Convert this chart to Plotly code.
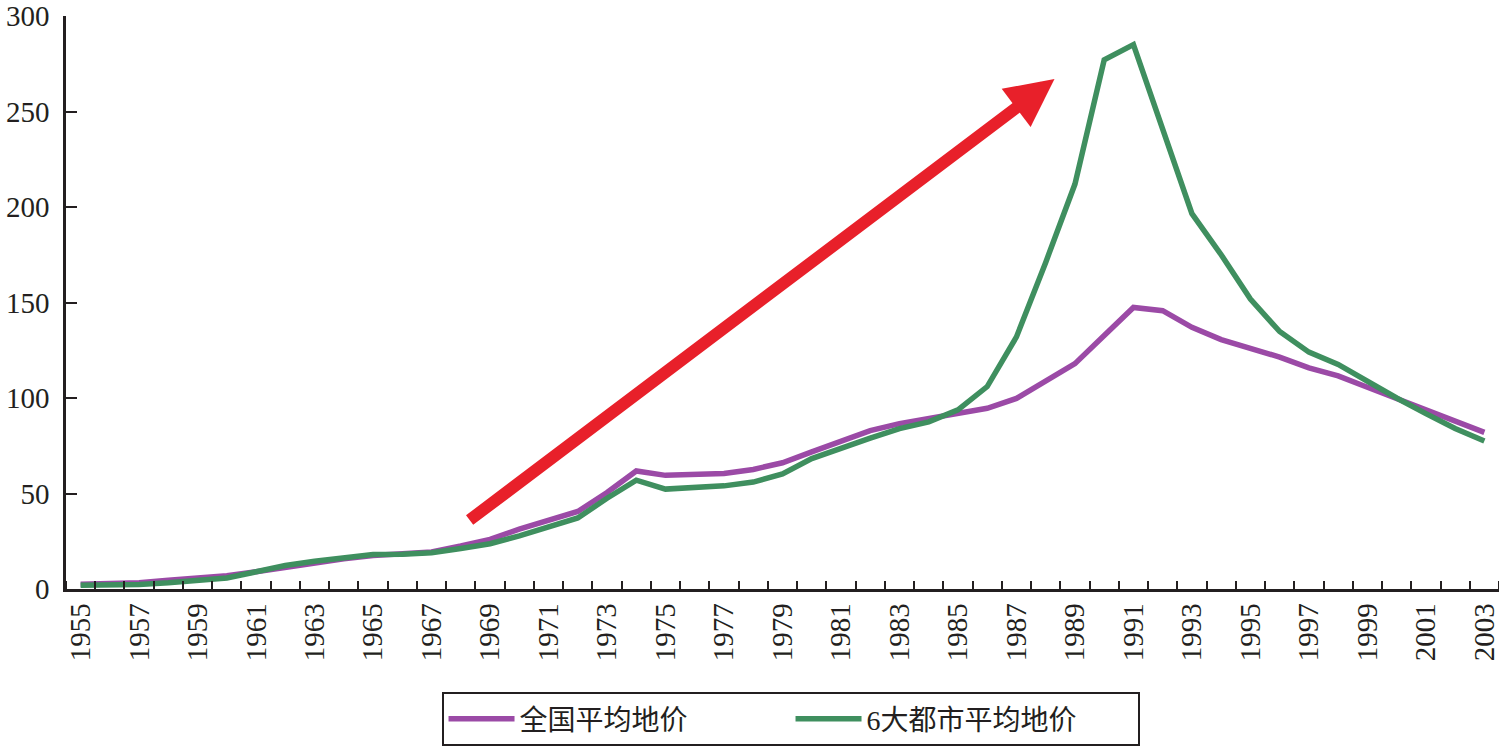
import plotly.graph_objects as go

years = list(range(1955, 2004))

national_avg = [2.5, 2.6, 3.3, 4.6, 5.7, 6.9, 9.0, 11.5, 13.8, 15.8, 17.5, 18.3, 19.4,
                22.5, 26.0, 31.3, 35.8, 40.6, 50.5, 61.8, 59.5, 59.7, 60.5, 62.6, 66.1,
                71.8, 77.7, 82.9, 86.6, 89.4, 92.0, 94.6, 99.8, 108.8, 118.0, 132.7,
                147.4, 145.7, 137.0, 130.6, 126.3, 121.4, 115.8, 111.6, 105.6, 99.8,
                93.8, 88.1, 82.0]

six_cities_avg = [2.0, 2.0, 2.4, 3.3, 4.6, 5.8, 9.0, 12.3, 14.5, 16.3, 18.0, 18.2, 19.0,
                  21.2, 23.7, 27.8, 32.5, 37.2, 47.5, 57.0, 52.3, 53.1, 54.0, 56.0, 60.2,
                  68.3, 74.0, 79.0, 84.0, 87.5, 93.8, 106.0, 132.0, 171.0, 212.0, 277.0,
                  285.0, 240.5, 196.5, 175.0, 151.8, 134.8, 124.0, 117.6, 108.5, 100.0,
                  91.8, 84.0, 77.5]

series_names = ["全国平均地价", "6大都市平均地价"]
tick_years = list(range(1955, 2004, 2))
y_ticks = [0, 50, 100, 150, 200, 250, 300]

# trend arrow (tail -> tip), in data units
arrow_tail = (1968.25, 35.5)
arrow_tip = (1988.3, 267.0)

axis_color = "#231f20"
serif = "'Liberation Serif', 'Times New Roman', 'Noto Sans CJK SC', serif"

fig = go.Figure()
fig.add_trace(go.Scatter(x=years, y=national_avg, mode="lines", name=series_names[0],
                         line=dict(color="#9b4aa6", width=5.5)))
fig.add_trace(go.Scatter(x=years, y=six_cities_avg, mode="lines", name=series_names[1],
                         line=dict(color="#3f8f5f", width=5.5)))

fig.add_annotation(x=arrow_tip[0], y=arrow_tip[1], ax=arrow_tail[0], ay=arrow_tail[1],
                   xref="x", yref="y", axref="x", ayref="y", text="",
                   showarrow=True, arrowhead=2, arrowsize=0.8, arrowwidth=12,
                   arrowcolor="#e8202a")

fig.update_layout(
    width=1499, height=746,
    margin=dict(l=66, r=0, t=16, b=157, autoexpand=False),
    paper_bgcolor="white", plot_bgcolor="white",
    font=dict(family=serif, color=axis_color),
    showlegend=True,
    legend=dict(orientation="h", x=0.5056, xanchor="center", y=-0.18, yanchor="top",
                bordercolor=axis_color, borderwidth=2, bgcolor="white",
                font=dict(family=serif, size=28, color=axis_color),
                entrywidth=266, itemwidth=66),
)

fig.update_xaxes(
    range=[1954.5, 2003.5], tickmode="array", tickvals=tick_years,
    ticktext=[str(y) for y in tick_years], tickangle=-90, automargin=False,
    ticks="", showline=True, linecolor=axis_color, linewidth=2.5,
    showgrid=False, zeroline=False, ticklabeloverflow="allow",
    tickfont=dict(family=serif, size=29, color=axis_color),
    minor=dict(tick0=1954.5, dtick=1, ticks="inside", ticklen=8, tickwidth=2,
               tickcolor=axis_color, showgrid=False),
)
fig.update_yaxes(
    range=[0, 300], tickmode="array", tickvals=y_ticks, automargin=False,
    ticks="inside", ticklen=11, tickwidth=2, tickcolor=axis_color,
    showline=True, linecolor=axis_color, linewidth=2.5,
    showgrid=False, zeroline=False, ticklabelstandoff=8, ticklabeloverflow="allow",
    tickfont=dict(family=serif, size=29, color=axis_color),
)

fig.write_html("out.html")
